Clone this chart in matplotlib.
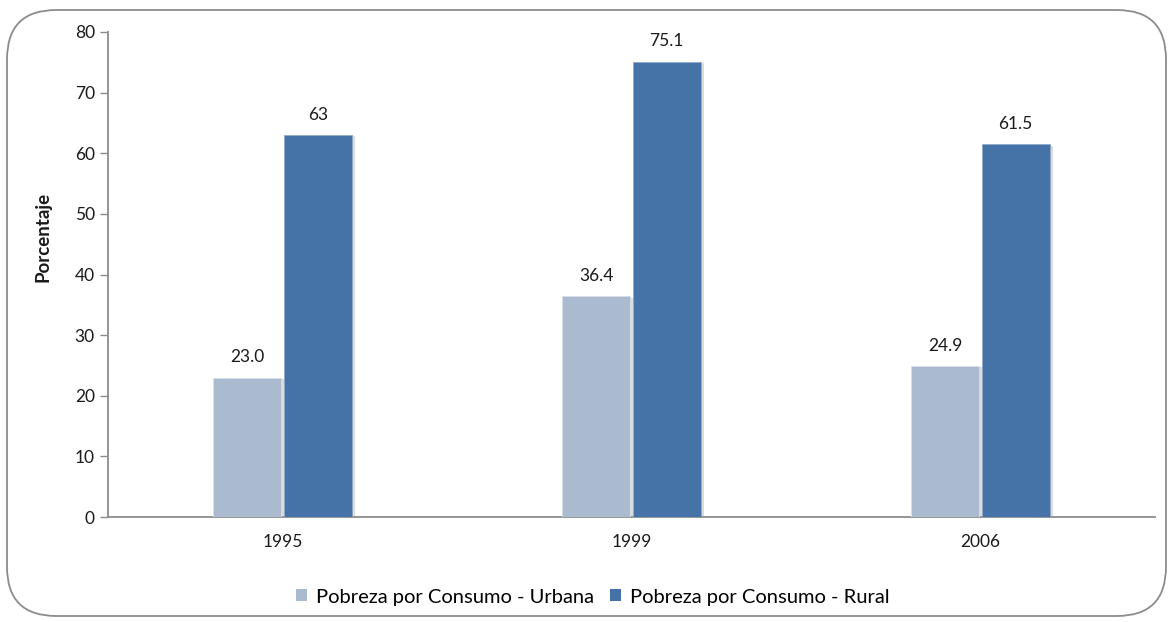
import matplotlib
matplotlib.use("Agg")
import matplotlib.pyplot as plt
import matplotlib.patheffects as pe
from matplotlib.patches import FancyBboxPatch
import numpy as np

years = ["1995", "1999", "2006"]
urbana = [23.0, 36.4, 24.9]
rural = [63, 75.1, 61.5]
urbana_labels = ["23.0", "36.4", "24.9"]
rural_labels = ["63", "75.1", "61.5"]
series_names = ["Pobreza por Consumo - Urbana", "Pobreza por Consumo - Rural"]

plt.rcParams["font.family"] = ["Lato", "DejaVu Sans"]

W, H = 1170, 622
fig = plt.figure(figsize=(W / 100, H / 100), dpi=100)
ax = fig.add_axes([108 / W, (H - 517) / H, (1155 - 108) / W, (517 - 32) / H])

c_urb = "#AABBCF"
c_rur = "#4572A7"
x = np.arange(len(years))
width = 0.196
off = 0.101
shadow = [pe.SimplePatchShadow(offset=(2, -1), shadow_rgbFace="#888888", alpha=0.3), pe.Normal()]

b1 = ax.bar(x - off, urbana, width, color=c_urb, edgecolor="#D5DEE9", linewidth=0.6,
            label=series_names[0], path_effects=shadow, zorder=3)
b2 = ax.bar(x + off, rural, width, color=c_rur, edgecolor="#8FA9C8", linewidth=0.6,
            label=series_names[1], path_effects=shadow, zorder=3)

for bars, labs in ((b1, urbana_labels), (b2, rural_labels)):
    for rect, lab in zip(bars, labs):
        ax.annotate(lab, (rect.get_x() + rect.get_width() / 2, rect.get_height()),
                    xytext=(0, 9), textcoords="offset points", ha="center", va="bottom",
                    fontsize=12.5, color="#1a1a1a")

ax.set_xlim(-0.5, 2.5)
ax.set_ylim(0, 80)
ax.set_yticks(range(0, 81, 10))
ax.set_xticks(x)
ax.set_xticklabels(years)
ax.tick_params(axis="x", length=0, pad=12, labelsize=12.5, labelcolor="#1a1a1a")
ax.tick_params(axis="y", length=5.5, width=1, color="#8c8c8c", pad=4, labelsize=12.5,
               labelcolor="#1a1a1a")
for s in ("top", "right"):
    ax.spines[s].set_visible(False)
for s in ("left", "bottom"):
    ax.spines[s].set_color("#8c8c8c")
    ax.spines[s].set_linewidth(1.3)

ax.set_ylabel("Porcentaje", fontsize=13.5, fontweight="bold", color="#1a1a1a")
ax.yaxis.set_label_coords(-0.0535, 0.577)

leg = fig.legend(loc="center", bbox_to_anchor=(593 / W, 1 - 597 / H), ncol=2, frameon=False,
                 fontsize=14.5, handlelength=0.55, handleheight=0.55, handletextpad=0.45,
                 columnspacing=0.8)
for h in leg.legend_handles:
    h.set_path_effects([])
    h.set_edgecolor("none")

border = FancyBboxPatch((7 / W, 1 - 616 / H), (1166 - 7) / W, (616 - 10) / H,
                        boxstyle="round,pad=0,rounding_size=0.042",
                        transform=fig.transFigure, fill=False, edgecolor="#8c8c8c",
                        linewidth=1.3, mutation_aspect=W / H)
fig.patches.append(border)

fig.savefig("out.png", dpi=100)
